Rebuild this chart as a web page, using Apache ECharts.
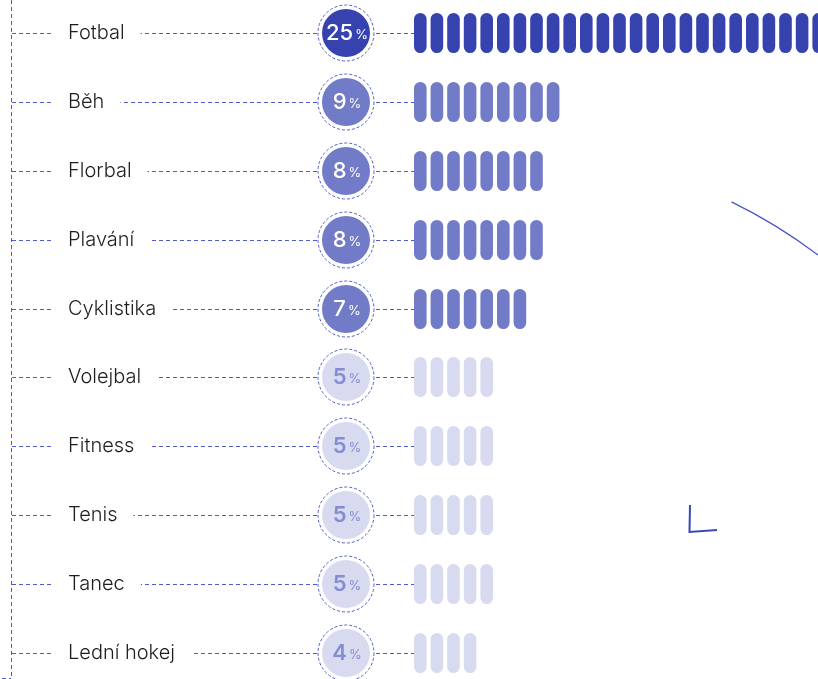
<!DOCTYPE html>
<html><head><meta charset="utf-8">
<script src="https://cdn.jsdelivr.net/npm/echarts@6/dist/echarts.min.js"></script>
<style>html,body{margin:0;padding:0;background:#fff}#c{width:818px;height:679px}</style>
</head><body><div id="c"></div>
<script>
const categories = ['Fotbal','Běh','Florbal','Plavání','Cyklistika','Volejbal','Fitness','Tenis','Tanec','Lední hokej'];
const percentValues = [25,9,8,8,7,5,5,5,5,4];

const chart = echarts.init(document.getElementById('c'), null, {renderer:'canvas'});
const DARK='#3643AF', MID='#717BC7', LIGHT='#D8DAF0', LINE='#4F5BC9';
function tier(v){return v>=20?0:(v>=6?1:2);}
const fills=[DARK,MID,LIGHT];
const numColors=['#ffffff','#ffffff','#868CD2'];
const numWeights=[500,500,600];
const PITCH=16.6;
const FONT='Inter, "Noto Sans", sans-serif';

const option = {
  animation:false,
  grid:{left:414,right:0,top:33,bottom:26},
  xAxis:{type:'value',min:0,max:(818-414)/PITCH,show:false},
  yAxis:{type:'category',data:categories,inverse:true,boundaryGap:false,show:false},
  graphic:[
    {type:'line',shape:{x1:11.5,y1:0,x2:11.5,y2:678},style:{stroke:LINE,lineWidth:1,lineDash:[4,3]},silent:true},
    {type:'line',shape:{x1:2,y1:678.5,x2:11,y2:678.5},style:{stroke:LINE,lineWidth:1,lineDash:[4,3]},silent:true},
    {type:'arc',shape:{cx:495,cy:684,r:537,startAngle:-1.1146,endAngle:-0.9,clockwise:true},style:{stroke:'#4A55C8',lineWidth:1.3,fill:null},silent:true},
    {type:'polyline',shape:{points:[[690,505],[689.5,532],[717,530]]},style:{stroke:'#3A47B5',lineWidth:2,fill:null},silent:true}
  ],
  series:[
    {
      type:'custom', name:'rows', clip:false, z:1,
      data: categories.map((c,i)=>[0,i,percentValues[i]]),
      encode:{x:0,y:1},
      renderItem(params, api){
        const i=api.value(1), v=api.value(2);
        const pt=api.coord([0,i]);
        const y=Math.round(pt[1]), x0=pt[0];
        const cx=x0-68;
        const t=tier(v);
        return {type:'group',children:[
          {type:'line',shape:{x1:12,y1:y+0.5,x2:x0,y2:y+0.5},style:{stroke:LINE,lineWidth:1,lineDash:[4,3]}},
          {type:'text',x:52,y:y,style:{text:categories[i],fill:'#1e1e1e',fontSize:20,fontFamily:FONT,fontWeight:300,verticalAlign:'middle',align:'left',backgroundColor:'#ffffff',padding:[4,16,4,16]}},
          {type:'circle',shape:{cx:cx,cy:y,r:28},style:{fill:'#ffffff',stroke:LINE,lineWidth:1,lineDash:[3,2]}},
          {type:'circle',shape:{cx:cx,cy:y,r:24},style:{fill:fills[t]}},
          {type:'text',x:cx+1,y:y,style:{
            text:'{n|'+v+'}{p|%}',align:'center',verticalAlign:'middle',
            rich:{
              n:{fill:numColors[t],fontSize:22,fontWeight:numWeights[t],fontFamily:FONT},
              p:{fill:numColors[t],fontSize:13,fontWeight:400,fontFamily:FONT,padding:[5,0,0,2]}
            }}}
        ]};
      }
    },
    {
      type:'custom', name:'pills', z:2,
      data: percentValues.map((v,i)=>[v,i]),
      encode:{x:0,y:1},
      renderItem(params, api){
        const v=api.value(0), i=api.value(1);
        const unit=api.size([1,0])[0];
        const w=unit*12.6/PITCH;
        const y=Math.round(api.coord([0,i])[1]);
        const fill=fills[tier(v)];
        const children=[];
        for(let k=0;k<v;k++){
          const x=api.coord([k,i])[0];
          children.push({type:'rect',shape:{x:x,y:y-20,width:w,height:40,r:w/2},style:{fill:fill}});
        }
        return {type:'group',children:children};
      }
    }
  ]
};
chart.setOption(option);
</script>
</body></html>
